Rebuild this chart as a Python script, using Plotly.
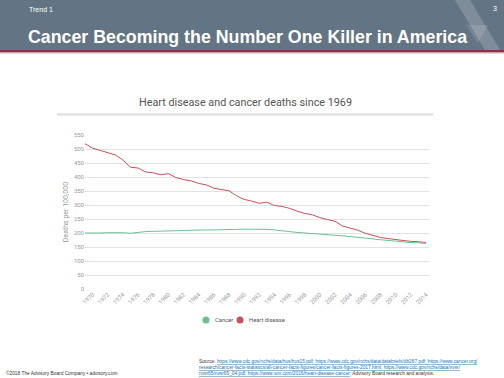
import plotly.graph_objects as go

years = list(range(1969, 2015))
heart = [519, 503, 495, 487, 479, 461, 435, 432, 418, 415, 408, 412, 398, 391, 386, 377,
         372, 360, 355, 351, 333, 320, 314, 306, 310, 298, 295, 288, 278, 270, 265, 255,
         248, 242, 225, 218, 210, 199, 191, 184, 180, 176, 172, 170, 169, 166]
cancer = [200, 199, 200, 201, 202, 201, 199, 203, 205, 206, 207, 208, 208, 209, 210, 210,
          211, 211, 211, 212, 213, 214, 214, 213, 213, 211, 209, 205, 202, 200, 199, 198,
          196, 194, 190, 187, 185, 181, 179, 176, 173, 171, 168, 166, 165, 163]
tick_years = list(range(1970, 2015, 2))
tick_labels = [str(y) for y in tick_years]
y_ticks = list(range(0, 551, 50))
series_names = ["Cancer", "Heart disease"]

W, H = 504, 378
L, R, T, B = 85, 75, 135, 89
PW, PH = W - L - R, H - T - B

def px(x):
    return (x - L) / PW

def py(y):
    return (H - B - y) / PH

RED = "#c9505c"
GREEN = "#6cc093"

fig = go.Figure()
fig.add_trace(go.Scatter(x=years, y=heart, mode="lines", name=series_names[1],
                         line=dict(color=RED, width=1), showlegend=False, hoverinfo="skip"))
fig.add_trace(go.Scatter(x=years, y=cancer, mode="lines", name=series_names[0],
                         line=dict(color=GREEN, width=1), showlegend=False, hoverinfo="skip"))

shapes = [
    dict(type="rect", xref="paper", yref="paper", x0=px(0), x1=px(W), y0=py(0), y1=py(50),
         fillcolor="#637584", line=dict(width=0), layer="below"),
    dict(type="path", xref="paper", yref="paper",
         path=f"M {px(455)},{py(0)} L {px(470)},{py(0)} L {px(500)},{py(50)} L {px(485)},{py(50)} Z",
         fillcolor="rgba(255,255,255,0.18)", line=dict(width=0), layer="below"),
    dict(type="path", xref="paper", yref="paper",
         path=f"M {px(466)},{py(25)} L {px(488)},{py(25)} L {px(478)},{py(43)} Z",
         fillcolor="rgba(255,255,255,0.12)", line=dict(width=0), layer="below"),
    dict(type="rect", xref="paper", yref="paper", x0=px(0), x1=px(W), y0=py(50), y1=py(52.5),
         fillcolor="#8a3049", line=dict(width=0), layer="below"),
    dict(type="rect", xref="paper", yref="paper", x0=px(0), x1=px(W), y0=py(52.5), y1=py(53.5),
         fillcolor="#d9a8b4", line=dict(width=0), layer="below"),
    dict(type="line", xref="paper", yref="paper", x0=px(57), x1=px(433), y0=py(114.5), y1=py(114.5),
         line=dict(color="#dcdcdc", width=2)),
    # legend markers
    dict(type="circle", xref="paper", yref="paper", x0=px(202.5), x1=px(209.5), y0=py(316.5), y1=py(323.5),
         fillcolor=GREEN, line=dict(width=0)),
    dict(type="circle", xref="paper", yref="paper", x0=px(236.5), x1=px(243.5), y0=py(316.5), y1=py(323.5),
         fillcolor=RED, line=dict(width=0)),
]

FOOT = dict(family="Liberation Sans, Arial", size=4.8, color="#333333")
LEG = dict(family="Roboto", size=5.8, color="#555555")
annotations = [
    dict(text="Trend 1", x=px(27), y=py(9), xref="paper", yref="paper", showarrow=False,
         xanchor="left", yanchor="middle", font=dict(family="Liberation Sans, Arial", size=7, color="white")),
    dict(text="3", x=px(499), y=py(8), xref="paper", yref="paper", showarrow=False,
         xanchor="right", yanchor="middle", font=dict(family="Liberation Sans, Arial", size=7, color="white")),
    dict(text="<b>Cancer Becoming the Number One Killer in America</b>", x=px(26), y=py(37),
         xref="paper", yref="paper", showarrow=False, xanchor="left", yanchor="middle",
         font=dict(family="Liberation Sans, Arial", size=17.8, color="white")),
    dict(text="Heart disease and cancer deaths since 1969", x=px(245), y=py(102),
         xref="paper", yref="paper", showarrow=False, xanchor="center", yanchor="middle",
         font=dict(family="Roboto", size=10.8, color="#555555")),
    dict(text=series_names[0], x=px(213), y=py(320), xref="paper", yref="paper", showarrow=False,
         xanchor="left", yanchor="middle", font=LEG),
    dict(text=series_names[1], x=px(247), y=py(320), xref="paper", yref="paper", showarrow=False,
         xanchor="left", yanchor="middle", font=LEG),
    dict(text="©2018 The Advisory Board Company • advisory.com", x=px(4), y=py(373),
         xref="paper", yref="paper", showarrow=False, xanchor="left", yanchor="middle",
         font=dict(family="Liberation Sans, Arial", size=4.8, color="#333333")),
    dict(text="Source: <span style='color:#1f6f9f'><u>https://www.cdc.gov/nchs/data/hus/hus15.pdf; https://www.cdc.gov/nchs/data/databriefs/db267.pdf; https://www.cancer.org/</u></span><br>"
              "<span style='color:#1f6f9f'><u>research/cancer-facts-statistics/all-cancer-facts-figures/cancer-facts-figures-2017.html; https://www.cdc.gov/nchs/data/nvsr/</u></span><br>"
              "<span style='color:#1f6f9f'><u>nvsr65/nvsr65_04.pdf; https://www.vox.com/2016/heart-disease-cancer</u></span>; Advisory Board research and analysis.",
         x=px(197), y=py(367), xref="paper", yref="paper", showarrow=False, xanchor="left",
         yanchor="middle", align="left", font=FOOT),
]

fig.update_layout(
    width=W, height=H, autosize=False,
    margin=dict(l=L, r=R, t=T, b=B, pad=0),
    paper_bgcolor="white", plot_bgcolor="white",
    font=dict(family="Roboto", color="#888888"),
    shapes=shapes, annotations=annotations, showlegend=False,
    xaxis=dict(range=[1969, 2014.4], tickvals=tick_years, ticktext=tick_labels, tickangle=-45,
               showgrid=False, zeroline=False, showline=False, ticks="",
               tickfont=dict(size=6, color="#999999")),
    yaxis=dict(range=[0, 550], tickvals=y_ticks, showgrid=True, gridcolor="#e3e3e3",
               gridwidth=1, zeroline=False, showline=False, ticks="",
               tickfont=dict(size=6, color="#999999"),
               title=dict(text="Deaths per 100,000", font=dict(size=7, color="#999999"), standoff=4)),
)

fig.write_html("out.html", config={"displayModeBar": False},
               post_script="document.body.style.margin='0';document.body.style.overflow='hidden';")
